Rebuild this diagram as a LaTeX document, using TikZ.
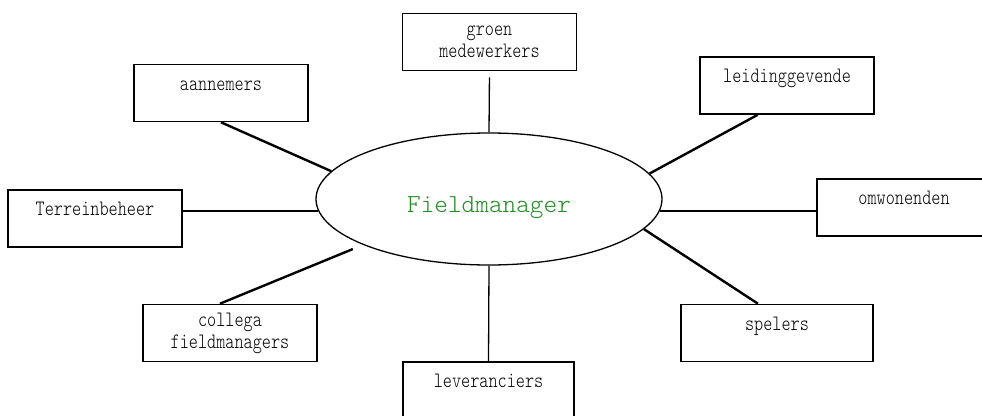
\documentclass[tikz,border=0pt]{standalone}
\usepackage{fontspec}
\usetikzlibrary{shapes.geometric}
\newfontfamily\boxfont[FakeStretch=0.79]{lmmonolt10-regular.otf}
\newfontfamily\fmfont{lmmonolt10-regular.otf}
\definecolor{fmgreen}{RGB}{36,140,36}
\begin{document}
\begin{tikzpicture}[x=1pt,y=-1pt,
  box/.style={rectangle, draw=black, line width=1.6pt, minimum width=174pt, minimum height=57pt, inner sep=0pt, align=center, font=\boxfont\fontsize{22}{22}\selectfont},
  onebox/.style={box, text height=15pt, text depth=21pt},
  spoke/.style={line width=2.4pt},
  stem/.style={line width=1.3pt}]
\useasboundingbox (0,0) rectangle (982,415);
\clip (0,0) rectangle (982,415);
\node [ellipse, draw=black, line width=1.3pt, minimum width=346pt, minimum height=132pt, inner sep=0pt, text=fmgreen, font=\fmfont\fontsize{26}{28}\selectfont, text height=31pt, text depth=5pt] (fm) at (489,199) {Fieldmanager};
\node [onebox] (aannemers) at (221,93) {aannemers};
\node [box] (groen) at (489.5,42) {groen\\medewerkers};
\node [onebox] (leiding) at (787,85.5) {leidinggevende};
\node [onebox] (terrein) at (95,218.5) {Terreinbeheer};
\node [onebox] (omwonenden) at (904,207.5) {omwonenden};
\node [box] (collega) at (230,333) {collega\\fieldmanagers};
\node [onebox, minimum width=192pt] (spelers) at (777,333) {spelers};
\node [onebox, minimum width=171pt] (leveranciers) at (488.5,390.5) {leveranciers};
\draw [stem, shorten <=6pt] (groen.south) -- (fm.north);
\draw [stem] (fm.south) -- (leveranciers.north);
\draw [spoke] (aannemers.south) -- (fm.170);
\draw [spoke] (leiding.225) -- (fm.9);
\draw [spoke] (fm.184) -- (fm.184 -| terrein.east);
\draw [spoke] (fm.-4) -- (fm.-4 -| omwonenden.west);
\draw [spoke, shorten >=11pt] (collega.109) -- (fm.200);
\draw [spoke] (spelers.123) -- (fm.-11);
\end{tikzpicture}
\end{document}
